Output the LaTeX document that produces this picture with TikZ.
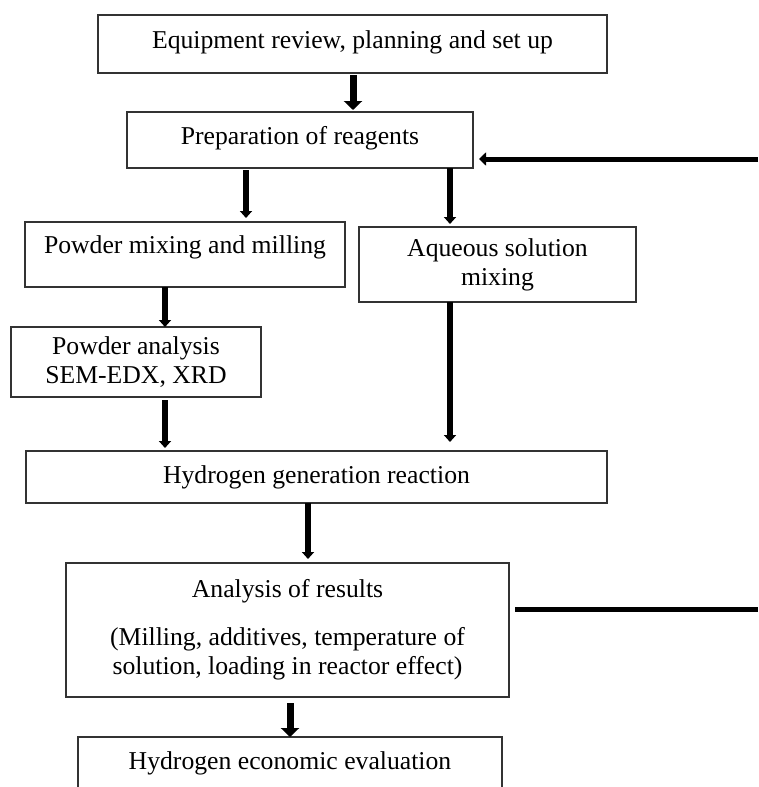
\documentclass[tikz,border=0pt]{standalone}
\usepackage{fontspec}
\setmainfont{Liberation Serif}
\usetikzlibrary{arrows.meta}

\begin{document}
\begin{tikzpicture}[x=1pt,y=-1pt,
  box/.style={draw=black!80, line width=1.3pt, anchor=north west, inner ysep=0pt,
    outer sep=0pt, align=center, font=\fontsize{25.7}{29}\selectfont},
  arr/.style={line width=5.5pt, -{Triangle[width=12pt,length=7pt]}},
  bigarr/.style={line width=7pt, -{Triangle[width=18pt,length=9pt]}}]
\useasboundingbox (0,0) rectangle (758,787);
\clip (0,0) rectangle (758,787);

% boxes
\node[box, minimum width=509pt, minimum height=58pt, text height=33pt, text depth=25pt]
  (equip) at (98,15) {Equipment review, planning and set up};
\node[box, minimum width=346pt, minimum height=56pt, text height=32pt, text depth=24pt]
  (prep) at (127,112) {Preparation of reagents};
\node[box, minimum width=320pt, minimum height=65pt, text height=31pt, text depth=34pt]
  (pmix) at (25,222) {Powder mixing and milling};
\node[box, minimum width=277pt, minimum height=75pt]
  (aqmix) at (359,227) {Aqueous solution\\mixing};
\node[box, minimum width=250pt, minimum height=70pt]
  (panal) at (11,327) {Powder analysis\\SEM-EDX, XRD};
\node[box, minimum width=581pt, minimum height=52pt, text height=32pt, text depth=20pt]
  (hgen) at (26,451) {Hydrogen generation reaction};
\node[box, minimum width=443pt, minimum height=134pt]
  (results) at (66,563) {Analysis of results\\[19pt](Milling, additives, temperature of\\solution, loading in reactor effect)};
\node[box, minimum width=424pt, minimum height=70pt, text height=32pt, text depth=38pt]
  (econ) at (78,737) {Hydrogen economic evaluation};

% columns of the arrows
\coordinate (c0) at (353,0);
\coordinate (c1) at (246,0);
\coordinate (c2) at (450,0);
\coordinate (c3) at (165,0);
\coordinate (c4) at (308,0);
\coordinate (c5) at (290,0);
\coordinate (fbtop) at (758,159);
\coordinate (fbbot) at (758,609);

% arrows
\draw[bigarr, shorten <=2pt, shorten >=2pt] (equip.south -| c0) -- (prep.north -| c0);
\draw[arr, shorten <=2pt, shorten >=4pt] (prep.south -| c1) -- (pmix.north -| c1);
\draw[arr, shorten >=3pt] (prep.south -| c2) -- (aqmix.north -| c2);
\draw[arr] (pmix.south -| c3) -- (panal.north -| c3);
\draw[arr, shorten <=3pt, shorten >=3pt] (panal.south -| c3) -- (hgen.north -| c3);
\draw[arr, shorten >=9pt] (aqmix.south -| c2) -- (hgen.north -| c2);
\draw[arr, shorten >=4pt] (hgen.south -| c4) -- (results.north -| c4);
\draw[bigarr, shorten <=6pt] (results.south -| c5) -- (econ.north -| c5);

% loop back
\draw[line width=5pt, shorten <=6pt] (results.east |- fbbot) -- (fbbot);
\draw[line width=5pt, -{Triangle[width=13pt,length=7pt]}, shorten >=6pt] (fbtop) -- (prep.east |- fbtop);
\end{tikzpicture}
\end{document}
